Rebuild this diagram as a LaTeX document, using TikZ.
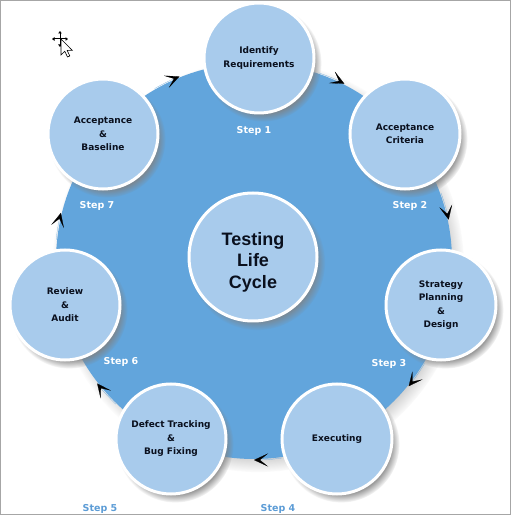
\documentclass[tikz,border=0pt]{standalone}
\usepackage{fontspec}
\setmainfont{DejaVu Sans}
\newfontfamily\hubfont{Liberation Sans}
\usetikzlibrary{arrows.meta, shadows}

\definecolor{ringblue}{RGB}{98,165,220}
\definecolor{stepblue}{RGB}{168,203,236}
\definecolor{labelblue}{RGB}{92,156,214}
\definecolor{inkdark}{RGB}{10,16,30}

\tikzset{
  stepnode/.style={circle, fill=stepblue, draw=white, line width=3pt,
    minimum size=110pt, inner sep=0pt, align=center, text=inkdark,
    font=\bfseries\fontsize{9}{13.5}\selectfont,
    circular drop shadow={shadow xshift=4pt, shadow yshift=-5pt, shadow scale=1.06, opacity=0.8}},
  steplabel/.style={font=\bfseries\fontsize{9.5}{11}\selectfont, text=white},
  flowtip/.style={ringblue, line width=0.2pt,
    -{Stealth[black, length=14pt, width=13pt, inset=8pt]}}
}

\begin{document}
\begin{tikzpicture}[x=1pt, y=1pt]
    \useasboundingbox (0,0) rectangle (511,515);
    \fill[white] (0,0) rectangle (511,515);

    % Big ring behind the steps
    \coordinate (ringc) at (254,254);
    \node[circle, fill=ringblue, minimum size=396pt, inner sep=0pt,
      circular drop shadow={shadow xshift=4pt, shadow yshift=-5pt, shadow scale=1.04, opacity=0.7}] (ring) at (ringc) {};

    % The seven steps
    \node[stepnode] (ident) at (259,457) {Identify\\Requirements};
    \node[stepnode] (crit) at (405,381) {Acceptance\\Criteria};
    \node[stepnode] (plan) at (441,210) {Strategy\\Planning\\\&\\Design};
    \node[stepnode] (exec) at (337,76) {Executing};
    \node[stepnode] (defect) at (171,76) {Defect Tracking\\\&\\Bug Fixing};
    \node[stepnode] (review) at (65,210) {Review\\\&\\Audit};
    \node[stepnode] (base) at (103,381) {Acceptance\\\&\\Baseline};

    % Hub in the middle
    \node[stepnode, minimum size=128pt] (hub) at (253,258) {};
    \node[font=\hubfont\bfseries\fontsize{18}{21.5}\selectfont, align=center, text=inkdark] (hubtxt) at (253,253) {Testing\\Life\\Cycle};

    % Step numbers
    \node[steplabel] (s1) at (254,384) {Step 1};
    \node[steplabel] (s2) at (410,309) {Step 2};
    \node[steplabel] (s3) at (389,151) {Step 3};
    \node[steplabel, text=labelblue] (s4) at (278,6) {Step 4};
    \node[steplabel, text=labelblue] (s5) at (100,6) {Step 5};
    \node[steplabel] (s6) at (121,153) {Step 6};
    \node[steplabel] (s7) at (97,309) {Step 7};

    % Arrow marks on the ring, clockwise
    \draw[flowtip] (ringc) ++(120:199) arc[start angle=120, end angle=112, radius=199];
    \draw[flowtip] (ringc) ++(71:199) arc[start angle=71, end angle=63, radius=199];
    \draw[flowtip] (ringc) ++(20:199) arc[start angle=20, end angle=12, radius=199];
    \draw[flowtip] (ringc) ++(-31:199) arc[start angle=-31, end angle=-39, radius=199];
    \draw[flowtip] (ringc) ++(-82:199) arc[start angle=-82, end angle=-90, radius=199];
    \draw[flowtip] (ringc) ++(-134:199) arc[start angle=-134, end angle=-142, radius=199];
    \draw[flowtip] (ringc) ++(174:199) arc[start angle=174, end angle=166, radius=199];

    % Mouse cursor left on the screenshot
    \coordinate (mouse) at (60,476);
    \draw[line width=1pt, {Triangle[length=2.5pt, width=3.5pt]}-{Triangle[length=2.5pt, width=3.5pt]}] (mouse) ++(-8,0) -- ++(16,0);
    \draw[line width=1pt, {Triangle[length=2.5pt, width=3.5pt]}-{Triangle[length=2.5pt, width=3.5pt]}] (mouse) ++(0,-8) -- ++(0,16);
    \draw[fill=white, line width=0.6pt, line join=miter, shift={(61,476)}]
      (0,0) -- (0,-16) -- (3.8,-12.3) -- (6.5,-18) -- (8.8,-17) -- (6.2,-11.4) -- (11.3,-11.4) -- cycle;

    % Screenshot frame
    \draw[black!35, line width=1pt] (0.5,0.5) rectangle (510.5,514.5);
\end{tikzpicture}
\end{document}
